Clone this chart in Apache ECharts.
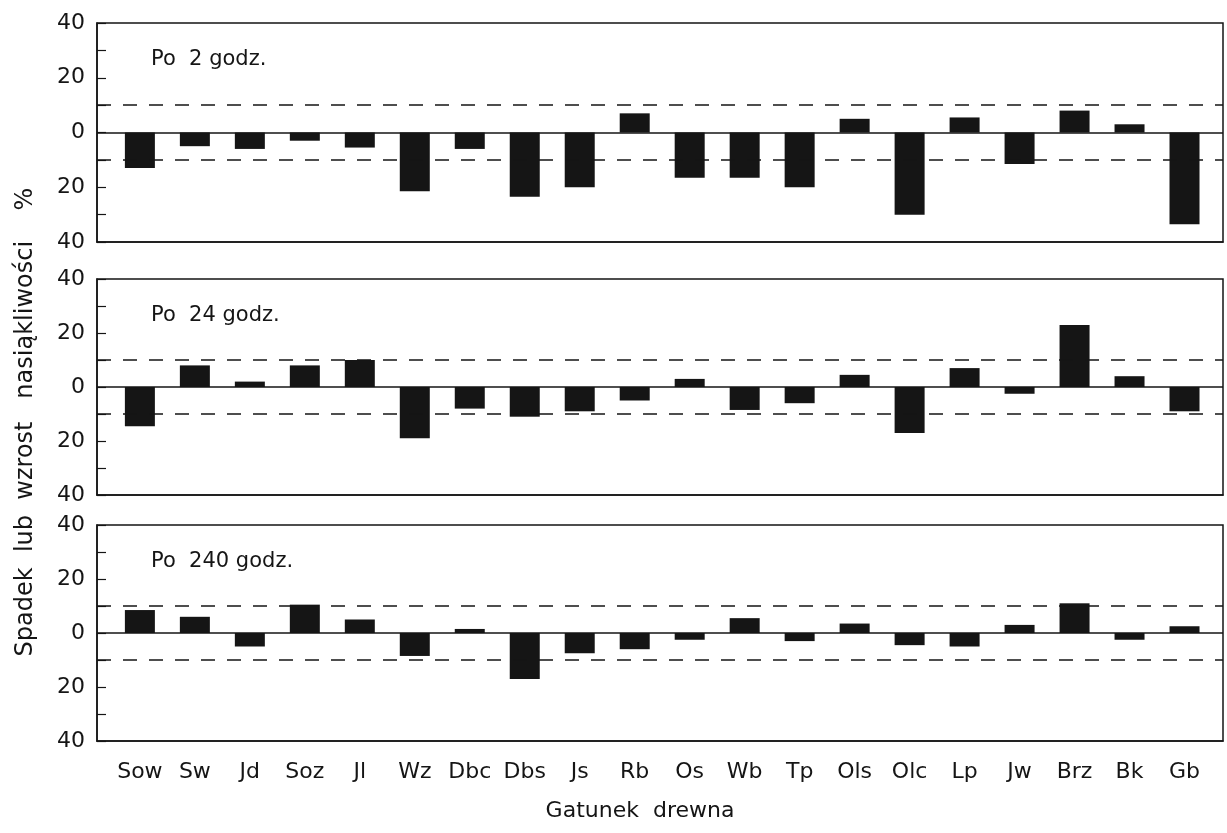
<!DOCTYPE html>
<html>
<head>
<meta charset="utf-8">
<script src="https://cdn.jsdelivr.net/npm/echarts@6/dist/echarts.min.js"></script>
<style>
  html, body { margin: 0; padding: 0; background: #fff; }
  #chart { width: 1227px; height: 833px; }
</style>
</head>
<body>
<div id="chart"></div>
<script>
// gatunki drewna
const species = ['Sow', 'Sw', 'Jd', 'Soz', 'Jl', 'Wz', 'Dbc', 'Dbs', 'Js', 'Rb',
  'Os', 'Wb', 'Tp', 'Ols', 'Olc', 'Lp', 'Jw', 'Brz', 'Bk', 'Gb'];

// zmiana nasiąkliwości, %
const after2h = [-13, -5, -6, -3, -5.5, -21.5, -6, -23.5, -20, 7,
  -16.5, -16.5, -20, 5, -30, 5.5, -11.5, 8, 3, -33.5];
const after24h = [-14.5, 8, 2, 8, 10, -19, -8, -11, -9, -5,
  3, -8.5, -6, 4.5, -17, 7, -2.5, 23, 4, -9];
const after240h = [8.5, 6, -5, 10.5, 5, -8.5, 1.5, -17, -7.5, -6,
  -2.5, 5.5, -3, 3.5, -4.5, -5, 3, 11, -2.5, 2.5];

const panelTitles = ['Po  2 godz.', 'Po  24 godz.', 'Po  240 godz.'];
const yTicks = [-40, -20, 0, 20, 40];
const band = 10;  // linie przerywane ±10 %

const panels = [after2h, after24h, after240h];
const tops = [23, 279, 525];
const heights = [219, 216, 216];
const FONT = 'DejaVu Sans';
const INK = '#151515';

const chart = echarts.init(document.getElementById('chart'));

const option = {
  backgroundColor: '#fff',
  animation: false,
  textStyle: { fontFamily: FONT, color: INK },
  title: panels.map((p, i) => ({
    text: panelTitles[i],
    left: 146,
    top: tops[i] + 21,
    textStyle: { fontFamily: FONT, fontWeight: 'normal', fontSize: 21, color: INK }
  })),
  grid: panels.map((p, i) => ({
    left: 97, right: 4, top: tops[i], height: heights[i],
    show: true, borderColor: INK, borderWidth: 1.5, backgroundColor: 'transparent'
  })),
  xAxis: panels.map((p, i) => ({
    type: 'value',
    gridIndex: i,
    min: -0.78,
    max: 19.7,
    splitLine: { show: false },
    axisLine: { show: true, onZero: false, lineStyle: { color: INK, width: 1.5 } },
    axisTick: { show: false },
    axisLabel: i === 2 ? {
      show: true,
      customValues: species.map((s, k) => k),
      formatter: v => species[Math.round(v)] || '',
      fontSize: 22,
      color: INK,
      margin: 20,
      fontFamily: FONT
    } : { show: false }
  })),
  yAxis: panels.map((p, i) => ({
    type: 'value',
    gridIndex: i,
    min: -40,
    max: 40,
    interval: 10,
    splitLine: { show: false },
    axisLine: { show: true, onZero: false, lineStyle: { color: INK, width: 1.5 } },
    axisTick: { show: true, inside: true, length: 9, lineStyle: { color: INK, width: 1.2 } },
    axisLabel: {
      fontSize: 22,
      color: INK,
      margin: 12,
      fontFamily: FONT,
      formatter: v => yTicks.includes(v) ? String(Math.abs(v)) : ''
    }
  })),
  series: panels.map((vals, i) => ({
    type: 'bar',
    xAxisIndex: i,
    yAxisIndex: i,
    barWidth: 30,
    itemStyle: { color: INK },
    data: vals.map((v, k) => [k, v]),
    markLine: {
      silent: true,
      symbol: 'none',
      label: { show: false },
      data: [
        { yAxis: 0, lineStyle: { type: 'solid', color: INK, width: 1.5 } },
        { yAxis: band, lineStyle: { type: [14, 12], color: INK, width: 1.5 } },
        { yAxis: -band, lineStyle: { type: [14, 12], color: INK, width: 1.5 } }
      ]
    }
  })),
  graphic: [
    {
      type: 'text',
      x: 26,
      y: 422,
      rotation: Math.PI / 2,
      style: {
        text: 'Spadek  lub  wzrost   nasiąkliwości    %',
        font: '24px "DejaVu Sans"',
        fill: INK,
        align: 'center',
        verticalAlign: 'middle'
      }
    },
    {
      type: 'text',
      x: 640,
      y: 811,
      style: {
        text: 'Gatunek  drewna',
        font: '22px "DejaVu Sans"',
        fill: INK,
        align: 'center',
        verticalAlign: 'middle'
      }
    }
  ]
};

chart.setOption(option);
</script>
</body>
</html>
